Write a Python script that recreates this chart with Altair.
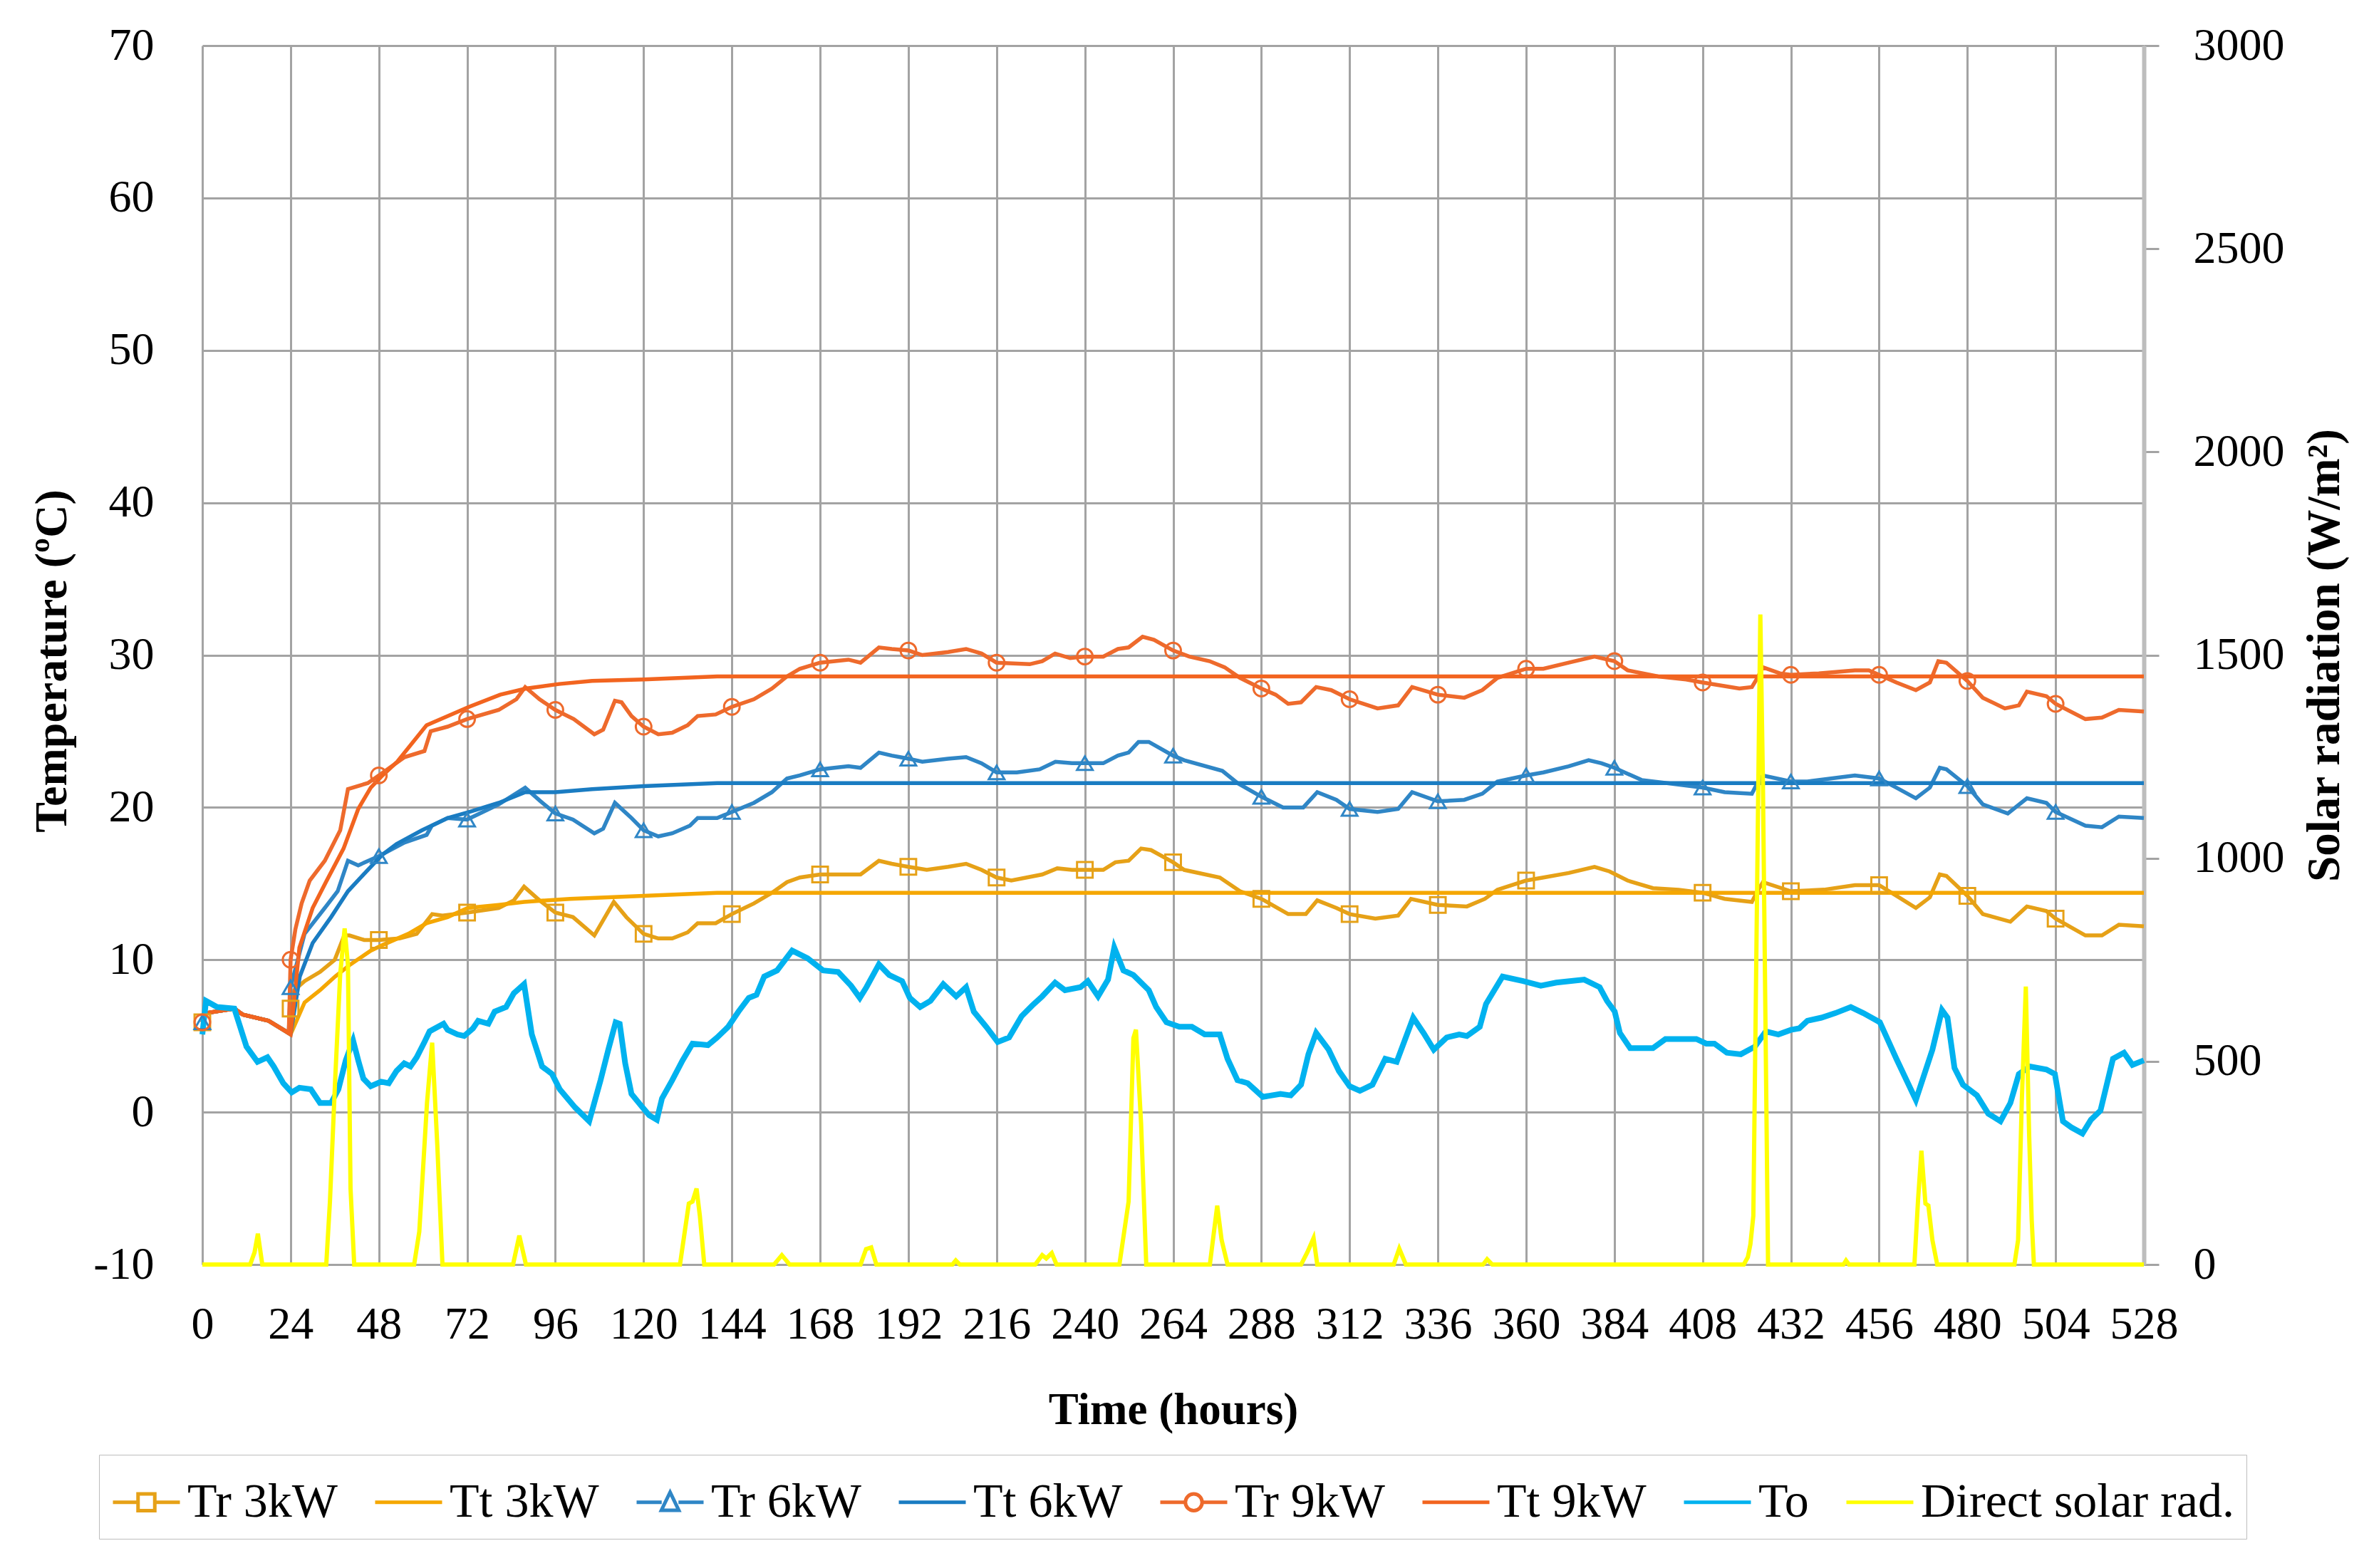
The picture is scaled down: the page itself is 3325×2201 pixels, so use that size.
import altair as alt
import pandas as pd

SERIES = ["Tr 3kW", "Tt 3kW", "Tr 6kW", "Tt 6kW", "Tr 9kW", "Tt 9kW", "To", "Direct solar rad."]
COLORS = ["#E6A117", "#F5A700", "#2F86C6", "#1A7CC2", "#EE6A2C", "#F2641F", "#00B2EF", "#FFFF00"]
X_TICKS = list(range(0, 529, 24))
T_TICKS = list(range(-10, 71, 10))
S_TICKS = list(range(0, 3001, 500))

# shared start (before heating begins)
PRE = [(0, 5.9), (1, 6.5), (8.7, 6.8), (11, 6.4), (18, 6.0), (23.5, 5.2)]

TR3 = [(24, 6.8), (25, 8.0), (27.8, 8.6), (32, 9.2), (36, 10.0), (38.6, 11.6), (40, 11.6), (44, 11.3),
       (48, 11.3), (53.6, 11.4), (58.3, 11.7), (62.5, 13.0), (65.3, 12.9), (72, 13.1), (80.6, 13.4),
       (84.7, 13.9), (87.5, 14.8), (91.7, 13.9), (96, 13.1), (100.8, 12.8), (106.6, 11.6), (111.9, 13.8),
       (115.3, 12.8), (120, 11.7), (124, 11.4), (127.8, 11.4), (132, 11.8), (134.7, 12.4), (139.6, 12.4),
       (144, 13.0), (150, 13.7), (154.9, 14.4), (159, 15.1), (162.5, 15.4), (168, 15.6), (175.7, 15.6),
       (179, 15.6), (184, 16.5), (187.5, 16.3), (192, 16.1), (197, 15.9), (202.8, 16.1), (207.7, 16.3),
       (211.9, 15.9), (216, 15.4), (220, 15.2), (228.4, 15.6), (232.5, 16.0), (236.5, 15.9), (240, 15.9),
       (245, 15.9), (248.3, 16.4), (251.9, 16.5), (255.3, 17.3), (258, 17.2), (264, 16.4), (267, 15.9),
       (276.7, 15.4), (282.2, 14.5), (288, 14.0), (295.3, 13.0), (300.1, 13.0), (303.2, 13.9), (308.4, 13.4),
       (312, 13.0), (319, 12.7), (325.2, 12.9), (328.7, 14.0), (336, 13.6), (343.9, 13.5), (348.8, 14.0),
       (352.2, 14.6), (360, 15.2), (364.7, 15.4), (371.6, 15.7), (378.6, 16.1), (382.7, 15.8), (387.6, 15.2),
       (394.5, 14.7), (401.5, 14.6), (408, 14.4), (414, 14.0), (421.4, 13.8), (422.9, 14.5), (424.4, 15.1),
       (432, 14.5), (441, 14.6), (449.4, 14.9), (456, 14.9), (460.7, 14.2), (466, 13.4), (469.8, 14.1),
       (472.5, 15.6), (474.3, 15.5), (480, 14.2), (484.2, 13.0), (491.7, 12.5), (496.2, 13.5), (501.5, 13.2),
       (504, 12.7), (512.1, 11.6), (516.6, 11.6), (521.2, 12.3), (528, 12.2)]

TT3 = [(24, 5.1), (27.8, 7.2), (32, 8.0), (36.1, 8.9), (40.3, 9.7), (45.8, 10.6), (49.3, 11.0), (56, 11.7),
       (61, 12.4), (66.7, 12.8), (72.2, 13.4), (80.6, 13.6), (87.5, 13.8), (100, 14.0), (120, 14.2),
       (140, 14.4), (528, 14.4)]

TR6 = [(24, 8.2), (27.8, 11.7), (33.3, 13.4), (36.8, 14.5), (39.6, 16.5), (42.4, 16.2), (48, 16.8),
       (55, 17.7), (61, 18.2), (62.4, 18.8), (66.7, 19.3), (72, 19.2), (80.6, 20.2), (87.8, 21.3), (92, 20.4),
       (96, 19.6), (100.8, 19.2), (106.6, 18.3), (109, 18.6), (112.2, 20.3), (116.7, 19.3), (120, 18.5),
       (124, 18.1), (127.8, 18.3), (132.6, 18.8), (134.7, 19.3), (140, 19.3), (144, 19.7), (150, 20.3),
       (154.9, 21.0), (159, 21.9), (162.5, 22.1), (168, 22.5), (175.7, 22.7), (179, 22.6), (184, 23.6),
       (187.5, 23.4), (192, 23.2), (195.8, 23.0), (202.8, 23.2), (207.7, 23.3), (211.9, 22.9), (216, 22.3),
       (221.5, 22.3), (227.7, 22.5), (232, 23.0), (236.5, 22.9), (240, 22.9), (245, 22.9), (249, 23.4),
       (251.9, 23.6), (254.6, 24.3), (257.4, 24.3), (264, 23.4), (267, 23.1), (277.4, 22.4), (281.5, 21.6),
       (288, 20.7), (293.9, 20.0), (299.4, 20.0), (303.2, 21.0), (308.4, 20.5), (312, 19.9), (319.6, 19.7),
       (325.2, 19.9), (329, 21.0), (336, 20.4), (343.2, 20.5), (348.1, 20.9), (352.2, 21.7), (360, 22.1),
       (364.7, 22.3), (371.6, 22.7), (377, 23.1), (380.5, 22.9), (384, 22.6), (391.4, 21.8), (398.3, 21.6),
       (408, 21.3), (414, 21.0), (421.4, 20.9), (422.9, 21.6), (424.4, 22.1), (432, 21.7), (436.5, 21.7),
       (449.4, 22.1), (456, 21.9), (460.7, 21.3), (466, 20.6), (469.8, 21.3), (472.5, 22.6), (474.3, 22.5),
       (480, 21.4), (484.2, 20.2), (491, 19.6), (496.2, 20.6), (501.5, 20.3), (504, 19.7), (512.1, 18.8),
       (516.6, 18.7), (521.2, 19.4), (528, 19.3)]

TT6 = [(24, 5.1), (26.5, 8.9), (30, 11.1), (35, 12.8), (39.6, 14.5), (45, 15.9), (49, 16.9), (52.8, 17.6),
       (59.7, 18.5), (66.7, 19.3), (72.5, 19.7), (80.6, 20.3), (87.8, 21.0), (96, 21.0), (106, 21.2),
       (120, 21.4), (140, 21.6), (528, 21.6)]

TR9 = [(24, 10.0), (25.3, 12.0), (27, 13.7), (29.2, 15.2), (33.3, 16.5), (37.5, 18.5), (39.6, 21.2),
       (45, 21.6), (48, 22.1), (55, 23.3), (60.4, 23.7), (62.1, 25.0), (66.7, 25.3), (72, 25.8), (80.6, 26.4),
       (85.4, 27.1), (87.8, 27.9), (91.7, 27.1), (96, 26.4), (101, 25.8), (106.6, 24.8), (109, 25.1),
       (112.2, 27.0), (114, 26.9), (116.7, 26.0), (120, 25.3), (124, 24.8), (127.8, 24.9), (132, 25.4),
       (134.7, 26.0), (139.6, 26.1), (144, 26.6), (150, 27.1), (154.9, 27.8), (159, 28.6), (162.5, 29.1),
       (168, 29.5), (175.7, 29.7), (179, 29.5), (184, 30.5), (187.5, 30.4), (192, 30.3), (195.8, 30.0),
       (202.8, 30.2), (207.7, 30.4), (211.9, 30.1), (216, 29.5), (225, 29.4), (228.4, 29.6), (231.9, 30.1),
       (236, 29.8), (240, 29.9), (245, 29.9), (249, 30.4), (251.9, 30.5), (255.7, 31.2), (258.8, 31.0),
       (264, 30.3), (268.4, 29.9), (273.9, 29.6), (278, 29.2), (282.2, 28.5), (288, 27.8), (291.9, 27.4),
       (295.3, 26.8), (298.8, 26.9), (302.9, 27.9), (307, 27.7), (312, 27.1), (319.6, 26.5), (325.2, 26.7),
       (329, 27.9), (336, 27.4), (343.2, 27.2), (348.1, 27.7), (352.2, 28.5), (360, 29.1), (364.7, 29.1),
       (371.6, 29.5), (378.6, 29.9), (384, 29.6), (387.6, 29.0), (395.9, 28.6), (403.5, 28.4), (408, 28.2),
       (418, 27.8), (421.4, 27.9), (422.9, 28.5), (424.4, 29.2), (429, 28.8), (432, 28.7), (439.6, 28.8),
       (449.4, 29.0), (453.2, 29.0), (456, 28.7), (460.7, 28.2), (466, 27.7), (469.8, 28.2), (472.1, 29.6),
       (474.3, 29.5), (480, 28.3), (484.2, 27.2), (490.2, 26.5), (494, 26.7), (496.2, 27.6), (501.5, 27.3),
       (504, 26.8), (512.1, 25.8), (516.6, 25.9), (521.2, 26.4), (528, 26.3)]

TT9 = [(24, 5.1), (26.4, 10.8), (30, 13.4), (33.6, 15.1), (38.4, 17.3), (42.4, 19.9), (45.8, 21.3),
       (49, 22.1), (53, 23.0), (61, 25.4), (72.5, 26.6), (81, 27.4), (88, 27.8), (97, 28.1), (106, 28.3),
       (120, 28.4), (140, 28.6), (528, 28.6)]

TO = [(0, 5.1), (1, 7.3), (4, 6.9), (8.7, 6.8), (12, 4.3), (15, 3.3), (17.7, 3.6), (19.4, 3.0), (22, 1.9),
      (24.3, 1.3), (26.4, 1.6), (29.5, 1.5), (32, 0.6), (35, 0.6), (37, 1.5), (39, 3.4), (41, 4.7),
      (42.4, 3.4), (43.8, 2.2), (45.8, 1.7), (48.6, 2.0), (50.7, 1.9), (52.8, 2.7), (54.9, 3.2), (56.6, 3.0),
      (58.3, 3.6), (60.4, 4.6), (61.8, 5.3), (65.6, 5.8), (66.7, 5.4), (69.4, 5.1), (71.2, 5.0), (73.6, 5.5),
      (75, 6.0), (77.8, 5.8), (79.5, 6.6), (82.6, 6.9), (84.7, 7.8), (87.5, 8.4), (89.6, 5.1), (92.4, 3.0),
      (95.1, 2.5), (97.2, 1.5), (101.4, 0.3), (105.2, -0.6), (108.3, 2.1), (110.4, 4.1), (112.4, 5.9),
      (113.5, 5.8), (115, 3.2), (116.7, 1.2), (119.4, 0.4), (121.5, -0.2), (123.6, -0.5), (125, 0.9),
      (127.8, 2.1), (130.6, 3.4), (133.3, 4.5), (137.5, 4.4), (140, 4.9), (143, 5.6), (145.8, 6.6),
      (148.6, 7.5), (150.7, 7.7), (152.8, 8.9), (156.3, 9.3), (160.4, 10.6), (164.6, 10.1), (168.8, 9.3),
      (172.9, 9.2), (176.4, 8.3), (178.8, 7.5), (180.6, 8.2), (184, 9.7), (186.8, 9.0), (190.3, 8.6),
      (192.4, 7.5), (195.2, 6.9), (198, 7.3), (201.5, 8.4), (205, 7.6), (207.7, 8.2), (209.8, 6.6),
      (213.2, 5.6), (216.3, 4.6), (219.4, 4.9), (222.8, 6.3), (225.7, 7.0), (228.4, 7.6), (231.9, 8.5),
      (234.6, 8.0), (238.8, 8.2), (240.8, 8.6), (243.6, 7.6), (246.3, 8.7), (248, 10.8), (250.5, 9.3),
      (253.2, 9.0), (257.4, 8.0), (259.4, 6.9), (262.2, 5.9), (265.7, 5.6), (269.1, 5.6), (272.6, 5.1),
      (276.7, 5.1), (278.8, 3.5), (281.5, 2.1), (284.3, 1.9), (288.4, 1.0), (293.2, 1.2), (296, 1.1),
      (298.8, 1.8), (300.8, 3.8), (302.9, 5.2), (306.3, 4.1), (309.1, 2.7), (312, 1.7), (314.8, 1.4),
      (318.2, 1.8), (321.7, 3.5), (324.8, 3.3), (329.3, 6.2), (332.1, 5.2), (334.9, 4.1), (338.4, 4.9),
      (341.8, 5.1), (343.9, 5.0), (347.4, 5.6), (349.1, 7.1), (353.6, 8.9), (359.2, 8.6), (364, 8.3),
      (368.2, 8.5), (375.8, 8.7), (380, 8.2), (382, 7.3), (384.1, 6.6), (385.5, 5.2), (388.3, 4.2),
      (394.5, 4.2), (397.9, 4.8), (406.3, 4.8), (409, 4.5), (411.2, 4.5), (414.6, 3.9), (418.4, 3.8),
      (422.2, 4.3), (425.2, 5.3), (428.6, 5.1), (432, 5.4), (434.3, 5.5), (436.5, 6.0), (440.3, 6.2),
      (444.1, 6.5), (448.3, 6.9), (451.7, 6.5), (456.2, 5.9), (460.7, 3.5), (466, 0.8), (470.5, 4.1),
      (473.1, 6.7), (474.6, 6.2), (476.5, 2.9), (478.8, 1.8), (482.6, 1.1), (485.7, -0.1), (489, -0.6),
      (491.7, 0.6), (494, 2.5), (497, 3.0), (501.5, 2.8), (503.8, 2.5), (506, -0.6), (508.3, -1.0),
      (511.3, -1.4), (513.6, -0.5), (516.2, 0.1), (519.6, 3.5), (522.6, 3.9), (524.9, 3.1), (528, 3.4)]

SOLAR = [(0, 0), (13, 0), (14.2, 30), (15.1, 76), (16.3, 0), (33.7, 0), (34.7, 155), (36.1, 451),
         (37.5, 716), (38.7, 827), (39.6, 737), (40.3, 187), (41.3, 0), (57.6, 0), (59, 81), (61.1, 398),
         (62.5, 546), (63.9, 293), (65.3, 0), (84.5, 0), (86.2, 71), (88, 0), (129.9, 0), (132.3, 150),
         (133.3, 155), (134.4, 187), (135.3, 120), (136.5, 0), (155.5, 0), (157.6, 23), (159.7, 0), (179, 0),
         (180.5, 38), (181.9, 42), (183.3, 0), (204, 0), (204.9, 10), (206, 0), (226.5, 0), (228.4, 23),
         (229.5, 15), (231, 28), (232.3, 0), (249.4, 0), (251.9, 155), (253.2, 557), (253.9, 578),
         (255.3, 346), (256.7, 0), (274, 0), (276, 145), (277.2, 60), (278.8, 0), (298.8, 0), (300.5, 30),
         (302.2, 65), (303.2, 0), (324, 0), (325.5, 39), (327.3, 0), (348.3, 0), (349.4, 13), (350.8, 0),
         (419.2, 0), (420.3, 18), (421, 50), (421.8, 120), (423.3, 1300), (423.7, 1600), (424.4, 1190),
         (425.8, 0), (446.3, 0), (447, 10), (447.8, 0), (465.6, 0), (466.6, 160), (467.5, 280), (468.6, 150),
         (469.4, 145), (470.5, 60), (471.8, 0), (492.8, 0), (493.8, 60), (494.8, 400), (495.9, 684),
         (496.8, 320), (497.5, 110), (498.1, 0), (528, 0)]

# legend glyphs: line with marker, or plain line (custom symbol paths in the -1..1 box)
LEG_SHAPES = [
    "M-1,0H-0.25M0.25,0H1M-0.25,-0.25H0.25V0.25H-0.25Z",
    "M-1,0H1",
    "M-1,0H-0.25M0.25,0H1M0,-0.3L0.26,0.24H-0.26Z",
    "M-1,0H1",
    "M-1,0H-0.25M0.25,0H1M0.25,0A0.25,0.25 0 1 1 -0.25,0A0.25,0.25 0 1 1 0.25,0Z",
    "M-1,0H1",
    "M-1,0H1",
    "M-1,0H1",
]


def frame(name, pairs):
    return pd.DataFrame(pairs, columns=["hour", "value"]).assign(series=name)


temp_df = pd.concat([
    frame("Tr 3kW", PRE + TR3), frame("Tt 3kW", PRE[:-1] + TT3),
    frame("Tr 6kW", PRE + TR6), frame("Tt 6kW", PRE[:-1] + TT6),
    frame("Tr 9kW", PRE + TR9), frame("Tt 9kW", PRE[:-1] + TT9),
], ignore_index=True)
to_df = frame("To", TO)
solar_df = frame("Direct solar rad.", SOLAR)
legend_df = pd.DataFrame({"series": SERIES})

FONT = "Liberation Serif"
GRID = "#A3A3A3"
W, H = 2725, 1711
LABEL_EXPR = "'' + datum.value"

color_scale = alt.Scale(domain=SERIES, range=COLORS)
color_enc = alt.Color("series:N", scale=color_scale)

x_enc = alt.X("hour:Q", scale=alt.Scale(domain=[0, 528], nice=False, zero=False),
              axis=alt.Axis(values=X_TICKS, title="Time (hours)", grid=True, gridColor=GRID, gridWidth=3,
                            ticks=False, tickSize=0, domain=False, labelPadding=52, labelFlush=False,
                            labelOverlap=False, labelFont=FONT, labelFontSize=64, labelColor="black",
                            labelExpr=LABEL_EXPR,
                            titleFont=FONT, titleFontSize=63, titleFontWeight="bold", titleColor="black",
                            titleX=W / 2, titleY=204, titleBaseline="middle", titleAlign="center"))
y_enc = alt.Y("value:Q", scale=alt.Scale(domain=[-10, 70], nice=False, zero=False),
              axis=alt.Axis(values=T_TICKS, title="Temperature (ºC)", grid=True, gridColor=GRID, gridWidth=3,
                            ticks=False, tickSize=0, domain=False, labelPadding=68, labelFlush=False,
                            labelOverlap=False, labelFont=FONT, labelFontSize=64, labelColor="black",
                            labelExpr=LABEL_EXPR,
                            titleFont=FONT, titleFontSize=64, titleFontWeight="bold", titleColor="black",
                            titleAngle=270, titleX=-211, titleY=H / 2 + 8, titleBaseline="middle",
                            titleAlign="center"))

leg = alt.Legend(title=None, orient="none", legendX=-145, legendY=1978, direction="horizontal", columns=8,
                 symbolSize=8836, symbolStrokeWidth=5, symbolOpacity=1, labelFont=FONT, labelFontSize=68,
                 labelColor="black", labelOffset=8, columnPadding=42, padding=17, labelLimit=0,
                 strokeColor="#BDBDBD")

# invisible carrier of the legend (color + legend glyph shape per series)
legend_layer = alt.Chart(legend_df).mark_point(opacity=0, filled=False).encode(
    color=alt.Color("series:N", scale=color_scale, legend=leg),
    shape=alt.Shape("series:N", scale=alt.Scale(domain=SERIES, range=LEG_SHAPES), legend=leg))

lines = alt.Chart(temp_df).mark_line(strokeWidth=5.5).encode(x=x_enc, y=y_enc, color=color_enc)

to_line = alt.Chart(to_df).mark_line(strokeWidth=8).encode(x="hour:Q", y="value:Q", color=color_enc)

marker_layers = []
for name, shp in [("Tr 3kW", "square"), ("Tr 6kW", "triangle-up"), ("Tr 9kW", "circle")]:
    marker_layers.append(
        alt.Chart(temp_df).mark_point(filled=False, size=480, strokeWidth=3, shape=shp, opacity=1)
        .encode(x="hour:Q", y="value:Q", color=color_enc)
        .transform_filter(f"datum.series == '{name}' && datum.hour % 24 == 0 && datum.hour < 528"))

temps = alt.layer(legend_layer, lines, to_line, *marker_layers)

solar = alt.Chart(solar_df).mark_line(strokeWidth=6).encode(
    x="hour:Q",
    y=alt.Y("value:Q", scale=alt.Scale(domain=[0, 3000], nice=False, zero=True),
            axis=alt.Axis(orient="right", values=S_TICKS, title="Solar radiation (W/m²)", grid=False,
                          ticks=True, tickSize=21, tickWidth=3, tickColor=GRID, domain=True,
                          domainColor="#BDBDBD", domainWidth=6, labelPadding=48, labelFlush=False,
                          labelOverlap=False, labelFont=FONT, labelFontSize=64, labelColor="black",
                          labelAlign="left", labelExpr=LABEL_EXPR, titleFont=FONT, titleFontSize=65,
                          titleFontWeight="bold", titleColor="black", titleAngle=270, titleX=253,
                          titleY=H / 2, titleBaseline="middle", titleAlign="center")),
    color=color_enc)

chart = alt.layer(temps, solar).resolve_scale(y="independent").properties(
    width=W, height=H, autosize=alt.AutoSizeParams(type="none"),
    padding={"left": 276, "top": 56, "right": 300, "bottom": 410},
    background="white",
).configure_view(stroke=None)

chart.save("out.html", embed_options={"renderer": "svg", "actions": False})
